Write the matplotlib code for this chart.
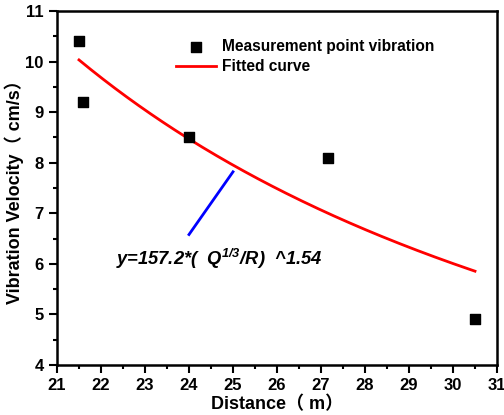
import numpy as np
import matplotlib
matplotlib.use("Agg")
import matplotlib.pyplot as plt
from matplotlib.ticker import MultipleLocator

plt.rcParams['font.family'] = ['Liberation Sans', 'Noto Sans CJK SC', 'DejaVu Sans']
plt.rcParams['font.weight'] = 'bold'
plt.rcParams['mathtext.fontset'] = 'custom'
plt.rcParams['mathtext.rm'] = 'Liberation Sans:italic:bold'
plt.rcParams['mathtext.it'] = 'Liberation Sans:italic:bold'
plt.rcParams['mathtext.bf'] = 'Liberation Sans:italic:bold'

# Data
distance = [21.5, 21.6, 24.0, 27.15, 30.5]
velocity = [10.4, 9.2, 8.5, 8.1, 4.9]

# Fitted curve parameters: y = K * (Q^(1/3)/R)^alpha
K = 157.2
alpha = 1.54
Q = 46.7
r_range = [21.5, 30.5]

# Annotation pointer line (data coords)
pointer_x = [24.0, 25.0]
pointer_y = [6.58, 7.82]

fig = plt.figure(figsize=(5.04, 4.15), dpi=100)
ax = fig.add_axes([57/504, 1 - 365/415, (497-57)/504, (365-11)/415])

ax.scatter(distance, velocity, marker='s', s=45, color='black', zorder=3,
           label='Measurement point vibration')
r = np.linspace(r_range[0], r_range[1], 200)
y = K * (Q ** (1/3) / r) ** alpha
ax.plot(r, y, color='red', lw=2, label='Fitted curve')
ax.plot(pointer_x, pointer_y, color='blue', lw=2)

ax.text(22.35, 6.1, 'y=157.2*(  Q$^{1/3}$/R)  ^1.54', fontsize=13.2,
        fontstyle='italic', fontweight='bold', ha='left', va='center')

ax.set_xlim(21, 31)
ax.set_ylim(4, 11)
ax.xaxis.set_major_locator(MultipleLocator(1))
ax.xaxis.set_minor_locator(MultipleLocator(0.5))
ax.yaxis.set_major_locator(MultipleLocator(1))
ax.yaxis.set_minor_locator(MultipleLocator(0.5))
ax.tick_params(which='major', direction='out', length=6, width=1.5, labelsize=12)
ax.tick_params(which='minor', direction='out', length=3, width=1.5)
ax.tick_params(top=False, right=False)
for s in ax.spines.values():
    s.set_linewidth(1.8)

ax.set_xlabel('Distance（ m）', fontsize=13, fontweight='bold', labelpad=2)
ax.set_ylabel('Vibration Velocity（ cm/s）', fontsize=13, fontweight='bold', labelpad=1)

leg = ax.legend(loc='upper left', bbox_to_anchor=(0.27, 0.92), frameon=False,
                prop={'size': 11.2, 'weight': 'bold'}, handlelength=2.6,
                handletextpad=0.35, labelspacing=0.3, borderaxespad=0, borderpad=0)

fig.savefig('out.png', dpi=100)
